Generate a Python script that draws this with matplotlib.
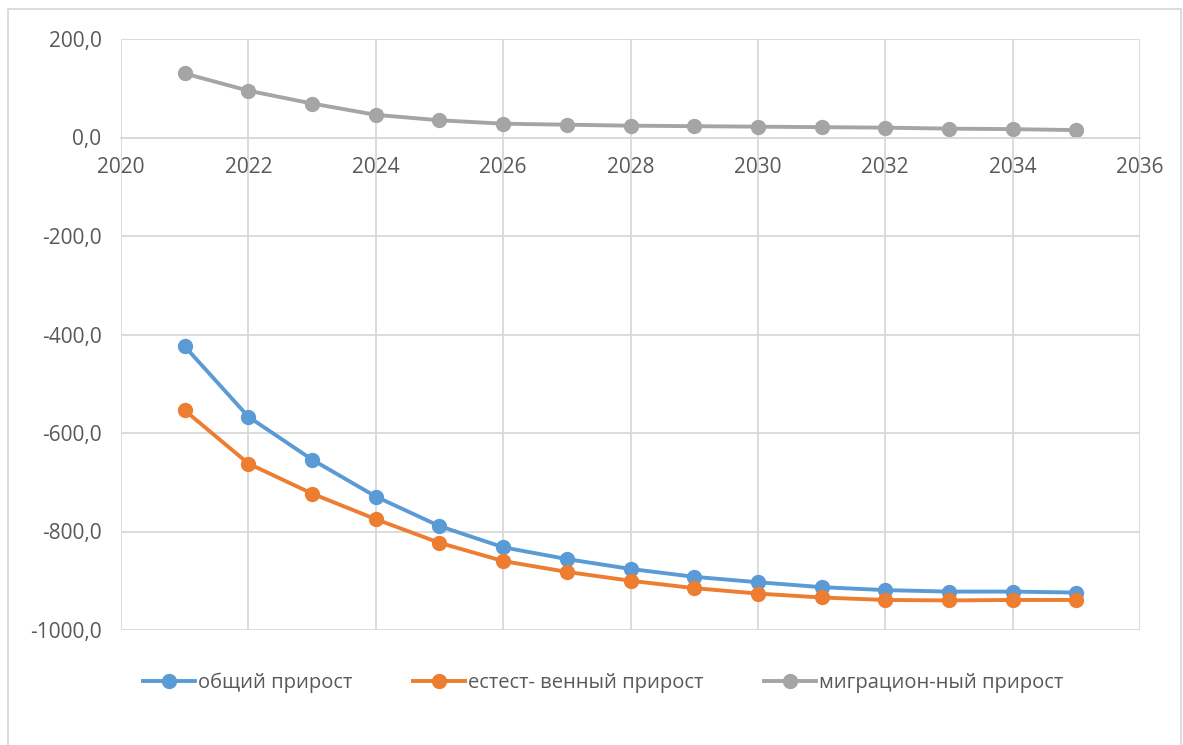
import matplotlib.pyplot as plt
from matplotlib.patches import Rectangle
from matplotlib.ticker import FuncFormatter

# Data
years = [2021, 2022, 2023, 2024, 2025, 2026, 2027, 2028, 2029, 2030, 2031, 2032, 2033, 2034, 2035]
total = [-424, -567, -654, -729, -789, -832, -856, -876, -892, -903, -913, -919, -922, -922, -924]
natural = [-554, -662, -723, -775, -823, -860, -882, -900, -915, -926, -934, -939, -940, -939, -939]
migration = [130, 95, 69, 46, 35, 28, 26, 24, 23, 22, 21, 20, 18, 17, 15]

labels = ['общий прирост', 'естест- венный прирост', 'миграцион-ный прирост']
colors = ['#5B9BD5', '#ED7D31', '#A5A5A5']

plt.rcParams['font.family'] = ['Open Sans', 'DejaVu Sans']

fig = plt.figure(figsize=(11.83, 7.45), dpi=100)
ax = fig.add_axes([121 / 1183, 1 - 630 / 745, (1140 - 121) / 1183, (630 - 39) / 745])

for series, col, lab in zip([total, natural, migration], colors, labels):
    ax.plot(years, series, color=col, lw=2.8, marker='o', markersize=10, label=lab)

ax.set_xlim(2020, 2036)
ax.set_ylim(-1000, 200)
ax.set_xticks(range(2020, 2037, 2))
ax.set_yticks(range(-1000, 201, 200))
ax.yaxis.set_major_formatter(FuncFormatter(lambda v, p: f'{v:.1f}'.replace('.', ',')))
ax.grid(True, color='#d9d9d9', lw=1.3)
ax.set_axisbelow(True)

for s in ['top', 'right', 'left']:
    ax.spines[s].set_visible(False)
ax.spines['bottom'].set_position(('data', 0))
ax.spines['bottom'].set_color('#d9d9d9')
ax.spines['bottom'].set_linewidth(1.3)
ax.tick_params(length=0, labelsize=15, labelcolor='#595959')
ax.tick_params(axis='x', pad=14)
ax.tick_params(axis='y', pad=14)

fig.legend(loc='center', bbox_to_anchor=(603 / 1183, 1 - 683 / 745), ncol=3, frameon=False,
           fontsize=14.5, labelcolor='#595959', handlelength=2.6, handletextpad=0.15,
           columnspacing=3.0)

fig.patches.append(Rectangle((8 / 1183, -0.01), (1181 - 8) / 1183, 1 - 9 / 745 + 0.01,
                             transform=fig.transFigure, fill=False, edgecolor='#d9d9d9', lw=1.3))

fig.savefig('out.png', dpi=100)
